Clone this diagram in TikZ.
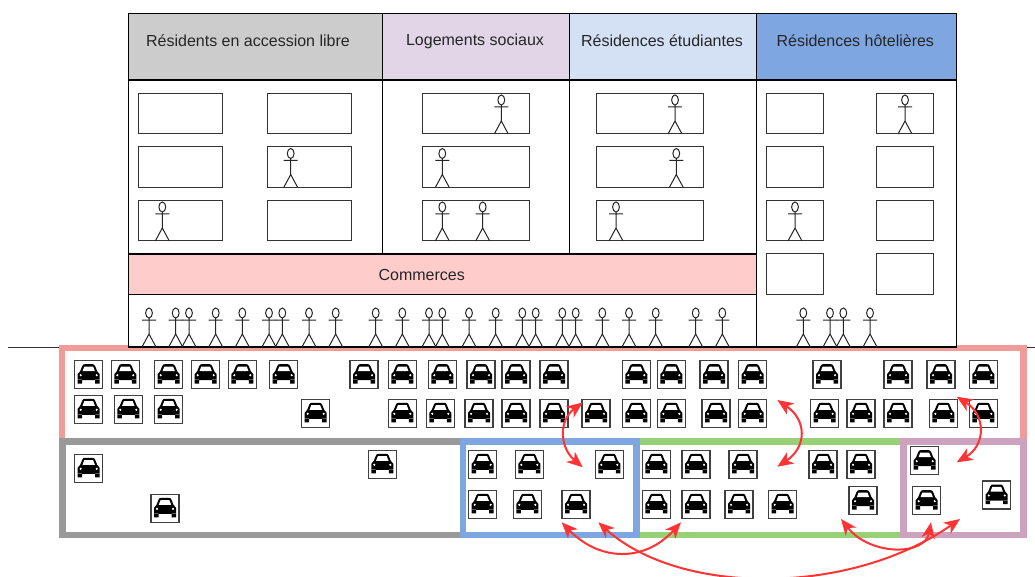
\documentclass[tikz,border=0pt]{standalone}
\usepackage{fontspec}
\setmainfont{Liberation Sans}
\usetikzlibrary{arrows.meta}

\definecolor{resGris}{HTML}{CCCCCC}
\definecolor{resMauve}{HTML}{E1D5E7}
\definecolor{resCiel}{HTML}{D4E1F5}
\definecolor{resBleu}{HTML}{7EA6E0}
\definecolor{resRose}{HTML}{FFCCCC}
\definecolor{parkRouge}{HTML}{F19C99}
\definecolor{parkGris}{HTML}{999999}
\definecolor{parkBleu}{HTML}{7EA6E0}
\definecolor{parkVert}{HTML}{97D077}
\definecolor{parkMauve}{HTML}{CDA2BE}
\definecolor{fluxRouge}{HTML}{FF3333}

\tikzset{
  wall/.style={draw=black,line width=0.8pt},
  room/.style={draw=black!80,line width=0.75pt,fill=white},
  park/.style={line width=5pt},
  lbl/.style={inner sep=0.75pt,font=\fontsize{12}{14}\selectfont,text=black!85},
  flux/.style={draw=fluxRouge,line width=1.5pt,{Stealth[length=12pt,width=10pt,inset=3.5pt]}-{Stealth[length=12pt,width=10pt,inset=3.5pt]}},
  every pic/.style={yscale=-1},
  pics/person/.style={code={
    \draw[black!85,line width=0.75pt] (0,-34) ellipse (3.4 and 5)
      (0,-29) -- (0,-13) (-7,-27) -- (7,-27) (-7,0) -- (0,-13) -- (7,0);
  }},
  pics/car/.style={code={
    \draw[black!75,line width=0.85pt,fill=white] (-14,-14) rectangle (14,14);
    \fill[black] (-11,5.5) -- (-11,-0.5) -- (-8.5,-3.5) -- (-6.5,-8.5) .. controls (-6,-10) and (-5,-10.5) .. (-4,-10.5)
      -- (4,-10.5) .. controls (5,-10.5) and (6,-10) .. (6.5,-8.5) -- (8.5,-3.5) -- (11,-0.5) -- (11,5.5) -- cycle
      (-11,5) rectangle (-6.5,9) (6.5,5) rectangle (11,9);
    \fill[white] (-6.2,-3.5) -- (-4.4,-8.2) -- (4.4,-8.2) -- (6.2,-3.5) -- cycle
      (-8,0.5) circle (1.2) (8,0.5) circle (1.2);
  }}
}

\begin{document}
\begin{tikzpicture}[x=0.75pt,y=0.75pt,yscale=-1,xscale=1]
\useasboundingbox (0,0) rectangle (1035,577);

%Straight Lines : ground
\draw[black!80,line width=0.75pt] (8,347.5) -- (1035,347.5);

%Shape: parking frames
\draw[park,draw=parkRouge] (62,348) rectangle (1023.5,441);
\draw[park,draw=parkGris] (62.5,441.5) rectangle (463,535);
\draw[park,draw=parkVert] (636.5,441.5) rectangle (903.5,535);
\draw[park,draw=parkBleu] (463,441.5) rectangle (636.5,535);
\draw[park,draw=parkMauve] (903.5,441.5) rectangle (1023.5,535);

%Shape: building
\draw[wall,fill=white] (128.5,13.5) rectangle (956.5,347);
\draw[wall,fill=resGris] (128.5,13.5) rectangle (382.5,80);
\draw[wall,fill=resMauve] (382.5,13.5) rectangle (569.5,80);
\draw[wall,fill=resCiel] (569.5,13.5) rectangle (756.5,80);
\draw[wall,fill=resBleu] (756.5,13.5) rectangle (956.5,80);
\draw[wall,fill=resRose] (128.5,254) rectangle (756.5,294.5);
\draw[wall] (382.5,80) -- (382.5,254) (569.5,80) -- (569.5,254) (756.5,80) -- (756.5,347);

%Shape: rooms
\foreach \ya/\yb in {93.5/134,147/187.5,200.5/241} {
  \draw[room] (138.5,\ya) rectangle (222.5,\yb);
  \draw[room] (267,\ya) rectangle (351,\yb);
  \draw[room] (422.5,\ya) rectangle (529.5,\yb);
  \draw[room] (596,\ya) rectangle (703,\yb);
}
\foreach \ya/\yb in {93.5/134,147/187.5,200.5/241,254/294.5} {
  \draw[room] (766,\ya) rectangle (823,\yb);
  \draw[room] (876.5,\ya) rectangle (933.5,\yb);
}

%Shape: people
\foreach \px/\py in {290.7/187.5,162.3/241,501.3/134,442.3/187.5,442.3/241,482.7/241,
    675/134,676.3/187.5,616/241,905/134,795/241}
  \pic at (\px,\py) {person};
\foreach \px in {149,175.7,189,215.7,242.3,269,282.3,309,335.7,375.7,402.3,429,442.3,469,495.7,
    522.3,535.7,562.3,575.7,602.3,629,655.7,695.7,722.3,803.3,830,843.3,870}
  \pic at (\px,347) {person};

%Shape: cars
\foreach \cx in {88.7,125.3,168.7,205.7,242.3,283.7,364,402.3,442.3,481,516,554,636.3,671.3,714,752.7,827,898,941,983.3}
  \pic at (\cx,374.7) {car};
\foreach \cx/\cy in {88.7/409.3,128.3/409.3,168.7/409.3}
  \pic at (\cx,\cy) {car};
\foreach \cx in {315.7,402.3,440.3,479,516,554,596,636.3,671.3,716,752.7,824.7,861,898,943.3,983.3}
  \pic at (\cx,413.3) {car};
\foreach \cx/\cy in {88.7/468.3,382.3/464.3,165/508.3,
    482.7/464.3,529.3/464.3,609.3/464.3,482.7/504.3,527.3/504.3,576/504.3,
    656.3/464.3,696/464.3,743/464.3,823/464.3,861/464.3,
    656.3/504.3,696/504.3,739/504.3,782.7/504.3,863/500.7,
    924.7/460.7,926.7/500.7,996.7/495}
  \pic at (\cx,\cy) {car};

% Text Node
\node[lbl] (accession) at (248,41) {Résidents en accession libre};
\node[lbl] (sociaux) at (475,41) {Logements sociaux};
\node[lbl] (etudiantes) at (662,41) {Résidences étudiantes};
\node[lbl] (hotelieres) at (855.3,41) {Résidences hôtelières};
\node[lbl] (commerces) at (421.7,274.5) {Commerces};

%Curves : car exchanges
\coordinate (rougeA) at (582.7,402.5);
\coordinate (bleuA) at (582.7,467.3);
\coordinate (rougeB) at (777.3,400);
\coordinate (vertA) at (777.3,466.7);
\coordinate (rougeC) at (956.7,396.7);
\coordinate (mauveA) at (956.7,462.3);
\coordinate (bleuB) at (561.7,522.3);
\coordinate (vertB) at (681,522.3);
\coordinate (bleuC) at (598.3,522.3);
\coordinate (mauveB) at (960,519);
\coordinate (vertC) at (841,519);
\coordinate (mauveC) at (931,522.3);

\draw[flux] (rougeA) .. controls (559,420) and (559,447) .. (bleuA);
\draw[flux] (rougeB) .. controls (807,420) and (807,447) .. (vertA);
\draw[flux] (rougeC) .. controls (986,415) and (986,445) .. (mauveA);
\draw[flux] (bleuB) .. controls (600,562) and (645,562) .. (vertB);
\draw[flux] (bleuC) .. controls (680,596) and (850,596) .. (mauveB);
\draw[flux] (vertC) .. controls (870,556) and (925,556) .. (mauveC);

\end{tikzpicture}
\end{document}
